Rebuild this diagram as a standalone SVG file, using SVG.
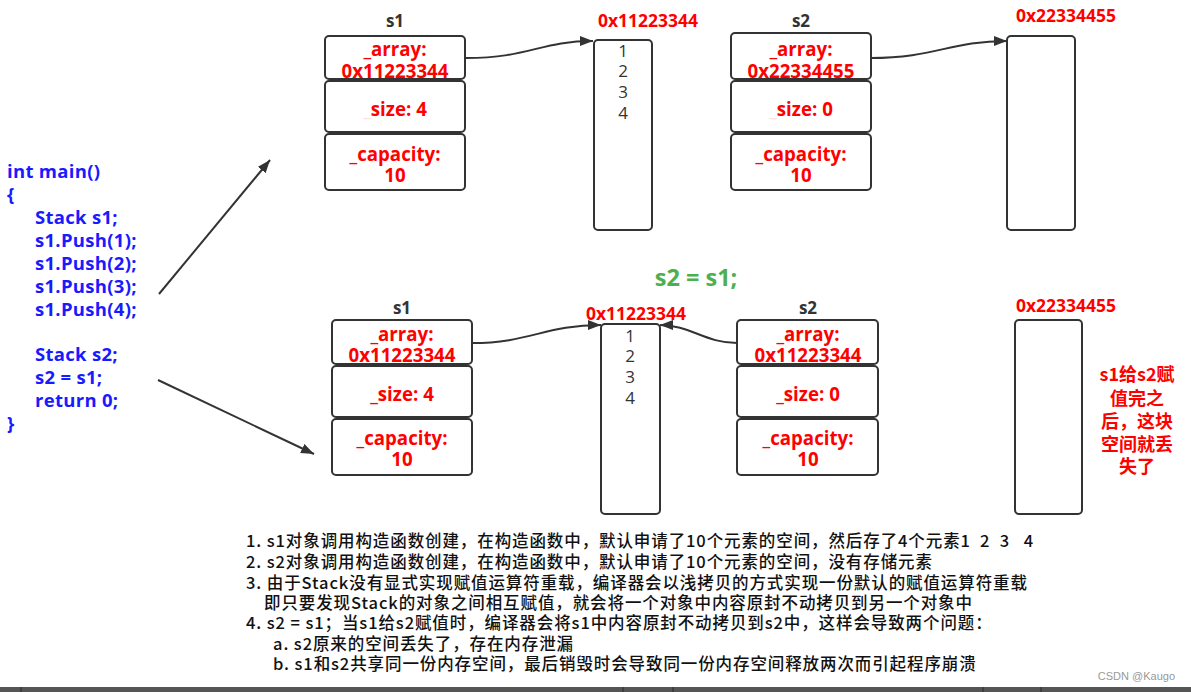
<svg xmlns="http://www.w3.org/2000/svg" width="1191" height="692" viewBox="0 0 1191 692">
<style>
.box{fill:#fff;stroke:#333;stroke-width:2}
.red{fill:#ff0000;font-family:"Open Sans","Noto Sans CJK SC",sans-serif;font-weight:bold;text-anchor:middle;dominant-baseline:central}
.fld{font-size:18.7px}
.addr{font-size:17.5px}
.lbl{fill:#333;font-family:"Open Sans",sans-serif;font-weight:bold;font-size:17px;text-anchor:middle;dominant-baseline:central}
.num{fill:#333;font-family:"Open Sans",sans-serif;font-size:17px;text-anchor:middle;dominant-baseline:central}
.code{fill:#1a1aff;font-family:"Open Sans",sans-serif;font-weight:bold;font-size:18.5px;letter-spacing:0.3px;dominant-baseline:central}
.note{fill:#111;font-family:"Noto Sans CJK SC","Noto Sans",sans-serif;font-size:16.5px;letter-spacing:0.9px;font-weight:500;dominant-baseline:central;white-space:pre}
.cn{fill:#ff0000;font-family:"Noto Sans CJK SC",sans-serif;font-weight:bold;font-size:18px;text-anchor:middle;dominant-baseline:central}
.conn{fill:none;stroke:#333;stroke-width:2}
.faint{fill-opacity:0.12}
</style>
<defs>
<marker id="ah" markerUnits="userSpaceOnUse" markerWidth="14" markerHeight="12" refX="13" refY="5" orient="auto">
<path d="M0,0 L13,5 L0,10 z" fill="#333"/>
</marker>
</defs>
<rect width="1191" height="692" fill="#fff"/>

<g id="code">
<text class="code" x="7" y="170">int main()</text>
<text class="code" x="7" y="193">{</text>
<text class="code" x="35" y="216">Stack s1;</text>
<text class="code" x="35" y="239">s1.Push(1);</text>
<text class="code" x="35" y="262">s1.Push(2);</text>
<text class="code" x="35" y="285">s1.Push(3);</text>
<text class="code" x="35" y="308">s1.Push(4);</text>
<text class="code" x="35" y="353">Stack s2;</text>
<text class="code" x="35" y="376">s2 = s1;</text>
<text class="code" x="35" y="399">return 0;</text>
<text class="code" x="7" y="422">}</text>
</g>

<g id="top-s1">
<text class="lbl" x="395" y="20">s1</text>
<rect class="box" x="325" y="36" width="140" height="43" rx="4"/>
<rect class="box" x="325" y="81" width="140" height="51" rx="4"/>
<rect class="box" x="325" y="134" width="140" height="56" rx="4"/>
<text class="red fld" x="395" y="48">_array:</text>
<text class="red fld" x="395" y="70">0x11223344</text>
<text class="red fld" x="395" y="108"><tspan class="faint">_</tspan>size: 4</text>
<text class="red fld" x="395" y="153">_capacity:</text>
<text class="red fld" x="395" y="174">10</text>
</g>

<g id="top-arr1">
<text class="red addr" x="648" y="20">0x11223344</text>
<rect class="box" x="594" y="40" width="58" height="190" rx="4"/>
<text class="num" x="623" y="50">1</text>
<text class="num" x="623" y="70">2</text>
<text class="num" x="623" y="91">3</text>
<text class="num" x="623" y="112">4</text>
</g>

<g id="top-s2">
<text class="lbl" x="801" y="20">s2</text>
<rect class="box" x="731" y="33" width="140" height="46" rx="4"/>
<rect class="box" x="731" y="81" width="140" height="51" rx="4"/>
<rect class="box" x="731" y="134" width="140" height="56" rx="4"/>
<text class="red fld" x="801" y="48">_array:</text>
<text class="red fld" x="801" y="70">0x22334455</text>
<text class="red fld" x="801" y="108"><tspan class="faint">_</tspan>size: 0</text>
<text class="red fld" x="801" y="153">_capacity:</text>
<text class="red fld" x="801" y="174">10</text>
</g>

<g id="top-arr2">
<text class="red addr" x="1066" y="15">0x22334455</text>
<rect class="box" x="1007" y="36" width="68" height="194" rx="4"/>
</g>

<g id="assign">
<text x="696" y="277" fill="#4caf50" font-family="Open Sans,sans-serif" font-weight="bold" font-size="23.5" text-anchor="middle" dominant-baseline="central">s2 = s1;</text>
</g>

<g id="bot-s1">
<text class="lbl" x="402" y="307">s1</text>
<rect class="box" x="332" y="320" width="140" height="44" rx="4"/>
<rect class="box" x="332" y="366" width="140" height="51" rx="4"/>
<rect class="box" x="332" y="419" width="140" height="56" rx="4"/>
<text class="red fld" x="402" y="333">_array:</text>
<text class="red fld" x="402" y="354">0x11223344</text>
<text class="red fld" x="402" y="393">_size: 4</text>
<text class="red fld" x="402" y="437">_capacity:</text>
<text class="red fld" x="402" y="458">10</text>
</g>

<g id="bot-arr1">
<text class="red addr" x="636" y="313">0x11223344</text>
<rect class="box" x="601" y="324" width="59" height="190" rx="4"/>
<text class="num" x="630" y="335">1</text>
<text class="num" x="630" y="355">2</text>
<text class="num" x="630" y="376">3</text>
<text class="num" x="630" y="397">4</text>
</g>

<g id="bot-s2">
<text class="lbl" x="808" y="307">s2</text>
<rect class="box" x="737" y="320" width="141" height="44" rx="4"/>
<rect class="box" x="737" y="366" width="141" height="51" rx="4"/>
<rect class="box" x="737" y="419" width="141" height="56" rx="4"/>
<text class="red fld" x="808" y="333">_array:</text>
<text class="red fld" x="808" y="354">0x11223344</text>
<text class="red fld" x="808" y="393">_size: 0</text>
<text class="red fld" x="808" y="437">_capacity:</text>
<text class="red fld" x="808" y="458">10</text>
</g>

<g id="bot-arr2">
<text class="red addr" x="1066" y="305">0x22334455</text>
<rect class="box" x="1015" y="320" width="67" height="194" rx="4"/>
</g>

<g id="lost-note">
<text class="cn" x="1137" y="373">s1给s2赋</text>
<text class="cn" x="1137" y="397">值完之</text>
<text class="cn" x="1137" y="420">后，这块</text>
<text class="cn" x="1137" y="443">空间就丢</text>
<text class="cn" x="1137" y="465">失了</text>
</g>

<g id="connectors">
<path class="conn" d="M466,58 C530,58 540,41 593,41" marker-end="url(#ah)"/>
<path class="conn" d="M871,58 C935,58 950,41 1007,41" marker-end="url(#ah)"/>
<path class="conn" d="M472,343 C530,343 545,325 601,325" marker-end="url(#ah)"/>
<path class="conn" d="M737,343 C705,343 690,325 660,325" marker-end="url(#ah)"/>
<path class="conn" d="M159,294 L270,160" marker-end="url(#ah)"/>
<path class="conn" d="M158,380 L314,454" marker-end="url(#ah)"/>
</g>

<g id="notes">
<text class="note" x="246" y="540" xml:space="preserve">1. s1对象调用构造函数创建，在构造函数中，默认申请了10个元素的空间，然后存了4个元素1  2  3   4</text>
<text class="note" x="246" y="561">2. s2对象调用构造函数创建，在构造函数中，默认申请了10个元素的空间，没有存储元素</text>
<text class="note" x="246" y="582">3. 由于Stack没有显式实现赋值运算符重载，编译器会以浅拷贝的方式实现一份默认的赋值运算符重载</text>
<text class="note" x="264" y="602">即只要发现Stack的对象之间相互赋值，就会将一个对象中内容原封不动拷贝到另一个对象中</text>
<text class="note" x="246" y="622">4. s2 = s1；当s1给s2赋值时，编译器会将s1中内容原封不动拷贝到s2中，这样会导致两个问题：</text>
<text class="note" x="273" y="643">a. s2原来的空间丢失了，存在内存泄漏</text>
<text class="note" x="273" y="663">b. s1和s2共享同一份内存空间，最后销毁时会导致同一份内存空间释放两次而引起程序崩溃</text>
</g>

<text x="1175" y="676" fill="#999" font-family="Liberation Sans,sans-serif" font-size="11" text-anchor="end" dominant-baseline="central">CSDN @Kaugo</text>

<g id="bottom-bar">
<rect x="0" y="687" width="1191" height="5" fill="#555"/>
<g stroke="#2a2a2a" stroke-width="1">
<line x1="21" y1="687" x2="21" y2="692"/>
<line x1="623" y1="687" x2="623" y2="692"/>
<line x1="673" y1="687" x2="673" y2="692"/>
<line x1="983" y1="687" x2="983" y2="692"/>
<line x1="1041" y1="687" x2="1041" y2="692"/>
</g>
</g>
</svg>
